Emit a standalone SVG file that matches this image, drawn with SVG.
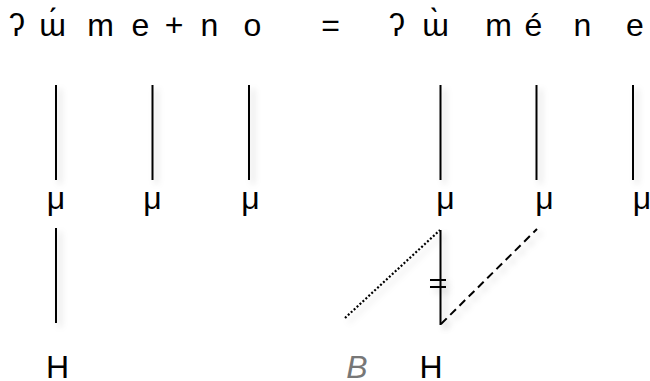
<svg xmlns="http://www.w3.org/2000/svg" width="650" height="381" viewBox="0 0 650 381">
<style>
text { font-family: "Liberation Sans", "DejaVu Sans", sans-serif; font-size: 32px; fill: #000; text-anchor: middle; }
.b { fill: #777; font-style: italic; }
.ln { stroke: #000; stroke-width: 2; fill: none; filter: url(#sh); }
.dot { stroke-dasharray: 2 2; stroke-width: 2.2; }
.dash { stroke-dasharray: 8 5; }
</style>
<defs>
<filter id="sh" filterUnits="userSpaceOnUse" x="0" y="0" width="650" height="381">
<feDropShadow dx="4" dy="4" stdDeviation="3" flood-color="#000" flood-opacity="0.18"/>
</filter>
</defs>
<rect width="650" height="381" fill="#fff"/>
<g id="top-left">
<text x="17" y="36">ʔ</text>
<text x="52.5" y="36">ɯ́</text>
<text x="100.5" y="36">m</text>
<text x="140.5" y="36">e</text>
<text x="174" y="36">+</text>
<text x="209.5" y="36">n</text>
<text x="252.5" y="36">o</text>
</g>
<g id="equals"><text x="330.5" y="36">=</text></g>
<g id="top-right">
<text x="397" y="36">ʔ</text>
<text x="435.5" y="36">ɯ̀</text>
<text x="498.5" y="36">m</text>
<text x="533.5" y="36">é</text>
<text x="582.5" y="36">n</text>
<text x="635" y="36">e</text>
</g>
<g id="mu1"><text x="56" y="208.5">μ</text></g>
<g id="mu2"><text x="152.5" y="208.5">μ</text></g>
<g id="mu3"><text x="250.5" y="208.5">μ</text></g>
<g id="mu4"><text x="445.5" y="208.5">μ</text></g>
<g id="mu5"><text x="544.5" y="208.5">μ</text></g>
<g id="mu6"><text x="642" y="208.5">μ</text></g>
<g id="H1"><text x="57.5" y="378">H</text></g>
<g id="B"><text class="b" x="357" y="378">B</text></g>
<g id="H2"><text x="431" y="378">H</text></g>
<g id="connectors">
<line class="ln" x1="56" y1="85" x2="56" y2="180"/>
<line class="ln" x1="152.5" y1="85" x2="152.5" y2="180"/>
<line class="ln" x1="249" y1="85" x2="249" y2="180"/>
<line class="ln" x1="440.5" y1="85" x2="440.5" y2="180"/>
<line class="ln" x1="536.5" y1="85" x2="536.5" y2="180"/>
<line class="ln" x1="633" y1="85" x2="633" y2="180"/>
<line class="ln" x1="56" y1="228" x2="56" y2="323"/>
<line class="ln" x1="440.5" y1="230" x2="440.5" y2="325"/>
<line class="ln dot" x1="345" y1="318" x2="440" y2="230"/>
<line class="ln dash" x1="441" y1="324" x2="537" y2="229"/>
<line class="ln" x1="430" y1="280" x2="446" y2="280" stroke-width="2.5"/>
<line class="ln" x1="430" y1="287" x2="446" y2="287" stroke-width="2.5"/>
</g>
</svg>
